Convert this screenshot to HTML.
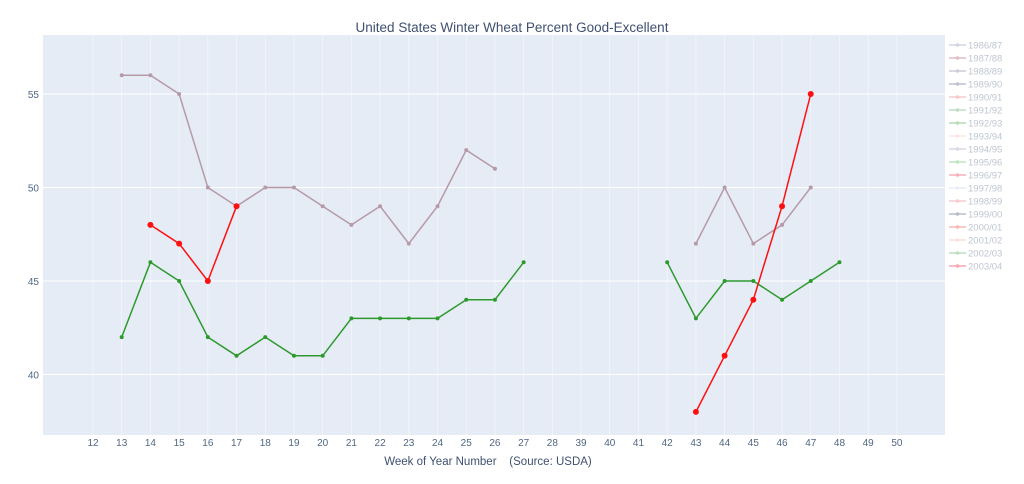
<!DOCTYPE html>
<html><head><meta charset="utf-8"><style>
body{margin:0;background:#fff;font-family:"Liberation Sans",sans-serif}
svg text{font-family:"Liberation Sans",sans-serif}
</style></head><body>
<svg id="c" width="1024" height="479"></svg>
<script>
const categories=[12,13,14,15,16,17,18,19,20,21,22,23,24,25,26,27,28,39,40,41,42,43,44,45,46,47,48,49,50];
const yTicks=[40,45,50,55];
const legendLabels=["1986/87","1987/88","1988/89","1989/90","1990/91","1991/92","1992/93","1993/94","1994/95","1995/96","1996/97","1997/98","1998/99","1999/00","2000/01","2001/02","2002/03","2003/04"];
const legendColors=["#a8b4cc","#c98a94","#a8a0b8","#8a90a8","#f0a0a0","#8cc09a","#7cbf7c","#f8d0d0","#c0b8d0","#8cd08c","#f07080","#d8e0f0","#f0a0a8","#8088a0","#f08080","#f8c8c8","#90c090","#f06070"];
const purpleWeeks=[13,14,15,16,17,18,19,20,21,22,23,24,25,26];
const purpleVals=[56,56,55,50,49,50,50,49,48,49,47,49,52,51];
const purpleWeeks2=[43,44,45,46,47];
const purpleVals2=[47,50,47,48,50];
const redWeeks=[14,15,16,17];
const redVals=[48,47,45,49];
const redWeeks2=[43,44,45,46,47];
const redVals2=[38,41,44,49,55];
const greenWeeks=[13,14,15,16,17,18,19,20,21,22,23,24,25,26,27];
const greenVals=[42,46,45,42,41,42,41,41,43,43,43,43,44,44,46];
const greenWeeks2=[42,43,44,45,46,47,48];
const greenVals2=[46,43,45,45,44,45,46];

const svg=document.getElementById('c');const NS='http://www.w3.org/2000/svg';
function mk(t,a,p){const e=document.createElementNS(NS,t);for(const k in a)e.setAttribute(k,a[k]);(p||svg).appendChild(e);return e;}
const L=43,R=945,T=35,B=435;
const x=w=>93+categories.indexOf(w)*28.71;
const y=v=>281-(v-45)*18.7;
const bg=mk('rect',{x:L,y:T,width:R-L,height:B-T,fill:'#e5ecf6'});

categories.forEach(c=>{
 const g=mk('line',{x1:x(c),x2:x(c),y1:T,y2:B,stroke:'#fff','stroke-width':0.6,opacity:0.7});
 
 const t=mk('text',{x:x(c),y:446,'text-anchor':'middle','font-size':10,fill:'#506784'});t.textContent=c;
 
});
yTicks.forEach(v=>{
 const g=mk('line',{x1:L,x2:R,y1:y(v),y2:y(v),stroke:'#fff','stroke-width':1});
 
 const t=mk('text',{x:L-4,y:y(v)+4,'text-anchor':'end','font-size':10,fill:'#506784'});t.textContent=v;
 
});
function series(ws,vs,col,r,name){
 const p=mk('polyline',{points:ws.map((w,i)=>x(w)+','+y(vs[i])).join(' '),fill:'none',stroke:col,'stroke-width':1.5});
 
 ws.forEach((w,i)=>{const c=mk('circle',{cx:x(w),cy:y(vs[i]),r:r,fill:col});
  });
}
series(purpleWeeks,purpleVals,'#b79aa8',2,'purple-series');
series(purpleWeeks2,purpleVals2,'#b79aa8',2,'purple-series');
series(greenWeeks,greenVals,'#2e9a2e',2,'green-series');
series(greenWeeks2,greenVals2,'#2e9a2e',2,'green-series');
series(redWeeks,redVals,'#ff1010',3,'red-series');
series(redWeeks2,redVals2,'#ff1010',3,'red-series');
const ti=mk('text',{x:512,y:32,'text-anchor':'middle','font-size':13.5,fill:'#3f5070'});ti.textContent='United States Winter Wheat Percent Good-Excellent';

const xt=mk('text',{x:488,y:465,'text-anchor':'middle','font-size':11.5,fill:'#3f5070'});xt.textContent='Week of Year Number\u00a0\u00a0\u00a0\u00a0(Source: USDA)';

legendLabels.forEach((lb,i)=>{
 const yy=45+i*13;
 const g=mk('g',{opacity:0.55});
 
 mk('line',{x1:949,x2:966,y1:yy,y2:yy,stroke:legendColors[i],'stroke-width':1.5},g);
 mk('circle',{cx:957.5,cy:yy,r:1.8,fill:legendColors[i]},g);
 const t=mk('text',{x:968,y:yy+3.5,'font-size':9.5,fill:'#8a96aa'},g);t.textContent=lb;
});
</script></body></html>
